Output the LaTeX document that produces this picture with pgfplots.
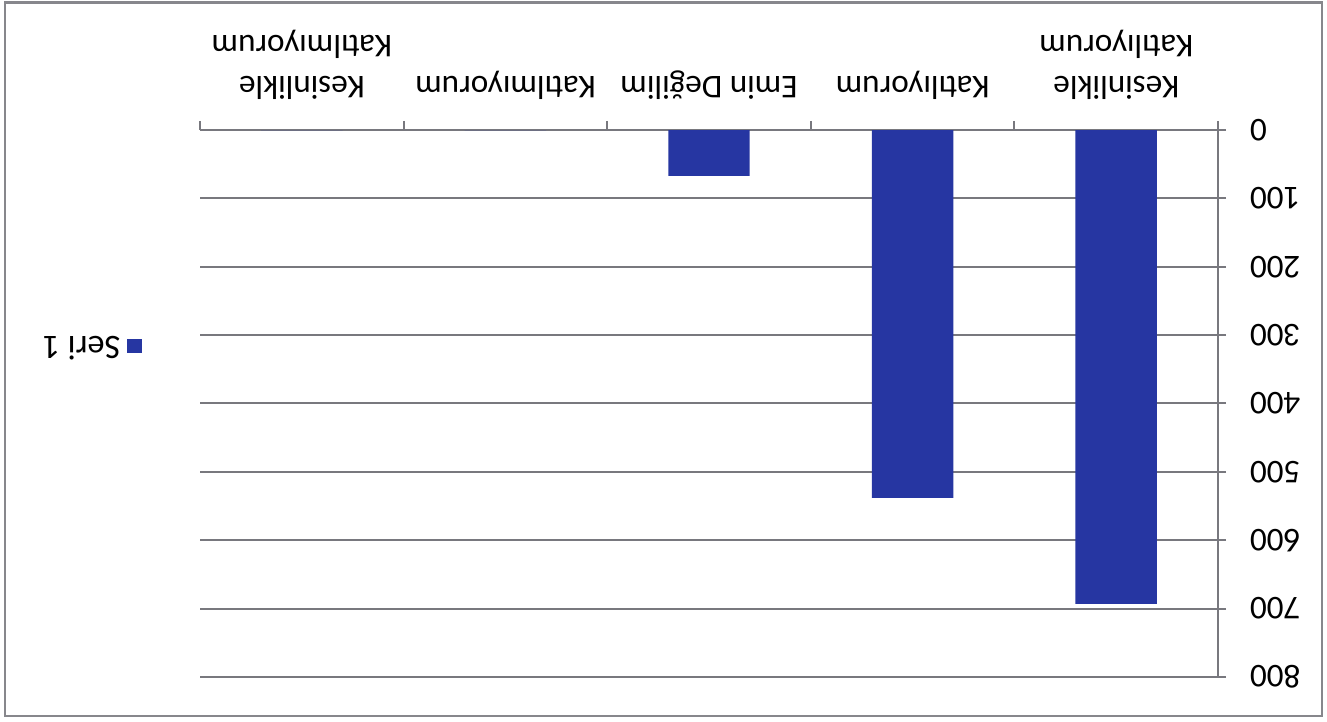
\documentclass[border=0pt]{standalone}
\usepackage{graphicx}
\usepackage{fontspec}
\setmainfont{Carlito}
\usepackage{pgfplots}
\pgfplotsset{compat=1.18}
\definecolor{barblue}{RGB}{38,54,162}
\definecolor{baredge}{RGB}{90,150,215}
\definecolor{gridgray}{RGB}{120,120,126}
\definecolor{framegray}{RGB}{135,135,140}

\begin{document}
% the scanned chart lies upside down, so the whole picture is turned by 180 degrees
\rotatebox{180}{%
\begin{tikzpicture}
\useasboundingbox (0,0) rectangle (398.1bp,216.6bp);
\draw[framegray, line width=0.8bp] (1.5bp,0.8bp) rectangle (396.6bp,214.8bp);
\begin{axis}[%
at={(32.7bp,39bp)}, anchor=south west,
scale only axis,
width=305.4bp, height=164.1bp,
xmin=-0.5, xmax=4.5,
ymin=0, ymax=800,
ytick={0,100,...,800},
xtick={0,1,2,3,4},
xticklabels={{Kesinlikle\\Katılıyorum},Katılıyorum,Emin Değilim,Katılmıyorum,{Kesinlikle\\Katılmıyorum}},
minor xtick={-0.5,0.5,...,4.5},
axis lines=left,
axis line style={-, gridgray, line width=0.6bp},
ymajorgrids,
major grid style={gridgray, line width=0.6bp},
tick align=outside,
major tick length=2.4bp,
minor tick length=2.7bp,
major x tick style={draw=none},
minor x tick style={gridgray, line width=0.6bp},
y tick style={gridgray, line width=0.6bp},
/pgf/number format/assume math mode=true,
tick label style={font=\fontsize{10}{12.6}\selectfont},
xticklabel style={align=center, inner sep=0pt, anchor=north, yshift=-6.4bp},
yticklabel style={inner sep=0pt, anchor=east, xshift=-7bp},
legend style={at={(1.056,0.395)}, anchor=west, draw=none, fill=none,
  inner sep=0pt, font=\fontsize{10.3}{12}\selectfont},
legend cell align=left,
]
\addplot[ybar, bar width=0.4, fill=barblue, draw=none,
  legend image code/.code={\fill[barblue] (0bp,-2.1bp) rectangle (4.6bp,2.1bp);}]
  coordinates {(0,693)(1,538)(2,67)(3,0)(4,0)};
\addlegendentry{Seri 1};
\end{axis}
\end{tikzpicture}}
\end{document}
